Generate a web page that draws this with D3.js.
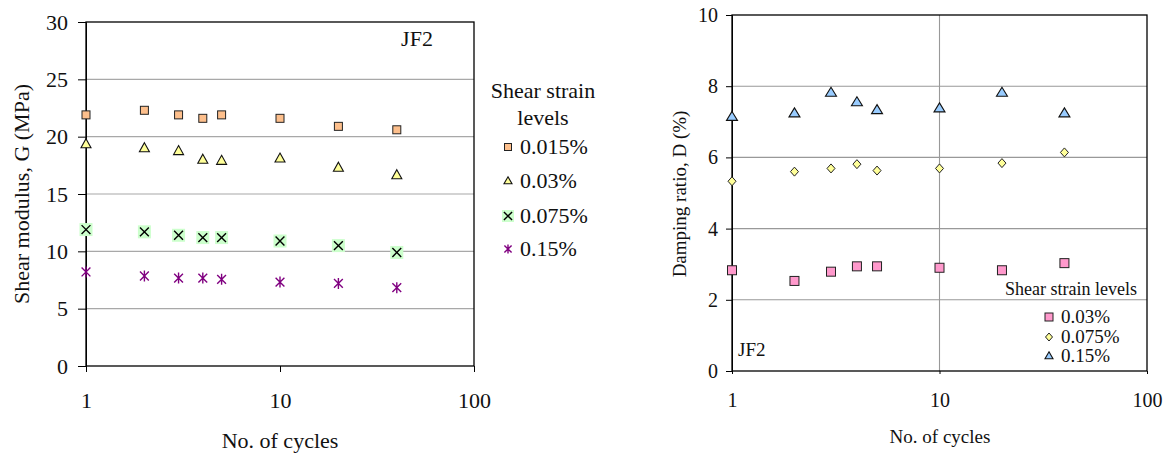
<!DOCTYPE html>
<html>
<head>
<meta charset="utf-8">
<script src="https://cdn.jsdelivr.net/npm/d3@7"></script>
<style>
  body { margin: 0; background: #fff; }
  svg { display: block; }
  svg text { font-family: "Liberation Serif", "Times New Roman", serif; fill: #111; }
</style>
</head>
<body>
<svg id="chart" width="1171" height="457"></svg>
<script>
// Cycle counts shared by both tests
const cycles = [1, 2, 3, 4, 5, 10, 20, 40];

// Shear modulus G (MPa) per strain level
const g0015 = [21.9, 22.3, 21.9, 21.6, 21.9, 21.6, 20.9, 20.6];
const g003  = [19.35, 19.0, 18.75, 18.0, 17.9, 18.1, 17.3, 16.65];
const g0075 = [11.9, 11.7, 11.4, 11.2, 11.2, 10.9, 10.5, 9.9];
const g015  = [8.2, 7.85, 7.67, 7.67, 7.56, 7.32, 7.2, 6.83];

// Damping ratio D (%) per strain level
const d003  = [2.83, 2.53, 2.79, 2.94, 2.94, 2.90, 2.83, 3.03];
const d0075 = [5.33, 5.6, 5.69, 5.81, 5.63, 5.69, 5.84, 6.14];
const d015  = [7.14, 7.24, 7.82, 7.55, 7.33, 7.38, 7.82, 7.24];

const gTicks = [0, 5, 10, 15, 20, 25, 30];
const dTicks = [0, 2, 4, 6, 8, 10];
const xTicks = [1, 10, 100];

const gLabels = ["0.015%", "0.03%", "0.075%", "0.15%"];
const dLabels = ["0.03%", "0.075%", "0.15%"];

const svg = d3.select("#chart");

// ---- marker drawers ----
function square(g, size, fill) {
  g.append("rect").attr("x", -size / 2).attr("y", -size / 2)
    .attr("width", size).attr("height", size)
    .attr("fill", fill).attr("stroke", "#222").attr("stroke-width", 1);
}
function triangle(g, w, h, fill) {
  g.append("path")
    .attr("d", `M0,${-h * 0.6}L${w / 2},${h * 0.4}L${-w / 2},${h * 0.4}Z`)
    .attr("fill", fill).attr("stroke", "#111").attr("stroke-width", 1.1);
}
function diamond(g, w, h, fill) {
  g.append("path").attr("d", `M0,${-h / 2}L${w / 2},0L0,${h / 2}L${-w / 2},0Z`)
    .attr("fill", fill).attr("stroke", "#222").attr("stroke-width", 1);
}
function cross(g, size) {
  g.append("rect").attr("x", -size / 2).attr("y", -size / 2)
    .attr("width", size).attr("height", size).attr("fill", "#ccffcc");
  const r = size * 0.34;
  g.append("path").attr("d", `M${-r},${-r}L${r},${r}M${-r},${r}L${r},${-r}`)
    .attr("stroke", "#000").attr("stroke-width", 1.4);
}
function star(g, size) {
  const r = size / 2;
  g.append("path")
    .attr("d", `M${-r * 0.8},${-r * 0.8}L${r * 0.8},${r * 0.8}M${-r * 0.8},${r * 0.8}L${r * 0.8},${-r * 0.8}M0,${-r}L0,${r}`)
    .attr("stroke", "#800080").attr("stroke-width", 1.4);
}

// strip the axis defaults so the serif stylesheet applies
function styleAxis(a, size) {
  a.attr("font-family", null).attr("font-size", null);
  a.selectAll("text").style("font-size", size + "px");
  a.selectAll(".tick line").attr("stroke", "#000");
}

// ---- left panel: shear modulus ----
(function () {
  const x = d3.scaleLog().domain([1, 100]).range([86, 474]);
  const y = d3.scaleLinear().domain([0, 30]).range([366, 22]);
  const p = svg.append("g");
  const fs = 22;

  p.selectAll("line.grid").data(gTicks.slice(1, -1)).join("line")
    .attr("x1", x(1)).attr("x2", x(100))
    .attr("y1", d => y(d)).attr("y2", d => y(d))
    .attr("stroke", "#a8a8a8").attr("stroke-width", 1.2);

  p.append("rect").attr("x", x(1)).attr("y", y(30))
    .attr("width", x(100) - x(1)).attr("height", y(0) - y(30))
    .attr("fill", "none").attr("stroke", "#000").attr("stroke-width", 1.3);

  const ya = p.append("g").attr("transform", `translate(${x(1)},0)`)
    .call(d3.axisLeft(y).tickValues(gTicks).tickSize(8).tickPadding(10));
  ya.select(".domain").attr("stroke", "#000");
  styleAxis(ya, fs);

  const xa = p.append("g").attr("transform", `translate(0,${y(0)})`)
    .call(d3.axisBottom(x).tickValues(xTicks).tickFormat(d3.format("d")).tickSize(6));
  xa.select(".domain").remove();
  styleAxis(xa, fs);
  xa.selectAll("text").attr("dy", null).attr("y", 42);

  p.append("text").attr("x", 280).attr("y", 448).attr("text-anchor", "middle")
    .style("font-size", fs + "px").text("No. of cycles");
  p.append("text").attr("transform", "translate(29,194) rotate(-90)").attr("text-anchor", "middle")
    .style("font-size", fs + "px").text("Shear modulus, G (MPa)");
  p.append("text").attr("x", 417).attr("y", 46).attr("text-anchor", "middle")
    .style("font-size", fs + "px").text("JF2");

  const series = [
    { v: g0015, draw: g => square(g, 8, "#fdbf8c") },
    { v: g003, draw: g => triangle(g, 10, 9, "#ffff99") },
    { v: g0075, draw: g => cross(g, 13) },
    { v: g015, draw: g => star(g, 11) }
  ];
  series.forEach(s => {
    p.append("g").selectAll("g").data(cycles.map((c, i) => [c, s.v[i]])).join("g")
      .attr("transform", d => `translate(${x(d[0])},${y(d[1])})`)
      .each(function () { s.draw(d3.select(this)); });
  });

  // legend
  const lg = p.append("g");
  lg.append("text").attr("x", 543).attr("y", 98).attr("text-anchor", "middle")
    .style("font-size", fs + "px").text("Shear strain");
  lg.append("text").attr("x", 543).attr("y", 125).attr("text-anchor", "middle")
    .style("font-size", fs + "px").text("levels");
  const ly = [147, 181, 216, 249];
  const ldraw = [
    g => square(g, 7, "#fdbf8c"),
    g => triangle(g, 8, 7, "#ffff99"),
    g => cross(g, 12),
    g => star(g, 9)
  ];
  gLabels.forEach((t, i) => {
    const m = lg.append("g").attr("transform", `translate(508,${ly[i]})`);
    ldraw[i](m);
    lg.append("text").attr("x", 520).attr("y", ly[i] + 6.5).style("font-size", fs + "px").text(t);
  });
})();

// ---- right panel: damping ratio ----
(function () {
  const x = d3.scaleLog().domain([1, 100]).range([732, 1147]);
  const y = d3.scaleLinear().domain([0, 10]).range([371, 15]);
  const p = svg.append("g");
  const fs = 19;

  p.selectAll("line.hgrid").data(dTicks.slice(1, -1)).join("line")
    .attr("x1", x(1)).attr("x2", x(100))
    .attr("y1", d => y(d)).attr("y2", d => y(d))
    .attr("stroke", "#999").attr("stroke-width", 1.1);
  p.append("line").attr("x1", x(10)).attr("x2", x(10)).attr("y1", y(0)).attr("y2", y(10))
    .attr("stroke", "#999").attr("stroke-width", 1.1);

  p.append("rect").attr("x", x(1)).attr("y", y(10))
    .attr("width", x(100) - x(1)).attr("height", y(0) - y(10))
    .attr("fill", "none").attr("stroke", "#000").attr("stroke-width", 1.3);

  const ya = p.append("g").attr("transform", `translate(${x(1)},0)`)
    .call(d3.axisLeft(y).tickValues(dTicks).tickSize(6).tickPadding(8));
  ya.select(".domain").attr("stroke", "#000");
  styleAxis(ya, 20);

  const xa = p.append("g").attr("transform", `translate(0,${y(0)})`)
    .call(d3.axisBottom(x).tickValues(xTicks).tickFormat(d3.format("d")).tickSize(3));
  xa.select(".domain").remove();
  styleAxis(xa, 20);
  xa.selectAll("text").attr("dy", null).attr("y", 36);

  p.append("text").attr("x", 940).attr("y", 443).attr("text-anchor", "middle")
    .style("font-size", fs + "px").text("No. of cycles");
  p.append("text").attr("transform", "translate(686,194) rotate(-90)").attr("text-anchor", "middle")
    .style("font-size", fs + "px").text("Damping ratio, D (%)");
  p.append("text").attr("x", 738).attr("y", 356)
    .style("font-size", fs + "px").text("JF2");

  const series = [
    { v: d003, draw: g => square(g, 9, "#ff99cc") },
    { v: d0075, draw: g => diamond(g, 8, 9, "#ffff99") },
    { v: d015, draw: g => triangle(g, 11, 9, "#99ccff") }
  ];
  series.forEach(s => {
    p.append("g").selectAll("g").data(cycles.map((c, i) => [c, s.v[i]])).join("g")
      .attr("transform", d => `translate(${x(d[0])},${y(d[1])})`)
      .each(function () { s.draw(d3.select(this)); });
  });

  const lg = p.append("g");
  lg.append("text").attr("x", 1071).attr("y", 295).attr("text-anchor", "middle")
    .style("font-size", "18px").text("Shear strain levels");
  const ly = [317, 337, 356];
  const ldraw = [
    g => square(g, 8, "#ff99cc"),
    g => diamond(g, 7, 8, "#ffff99"),
    g => triangle(g, 8, 7, "#99ccff")
  ];
  dLabels.forEach((t, i) => {
    const m = lg.append("g").attr("transform", `translate(1049,${ly[i]})`);
    ldraw[i](m);
    lg.append("text").attr("x", 1061).attr("y", ly[i] + 6).style("font-size", fs + "px").text(t);
  });
})();
</script>
</body>
</html>
